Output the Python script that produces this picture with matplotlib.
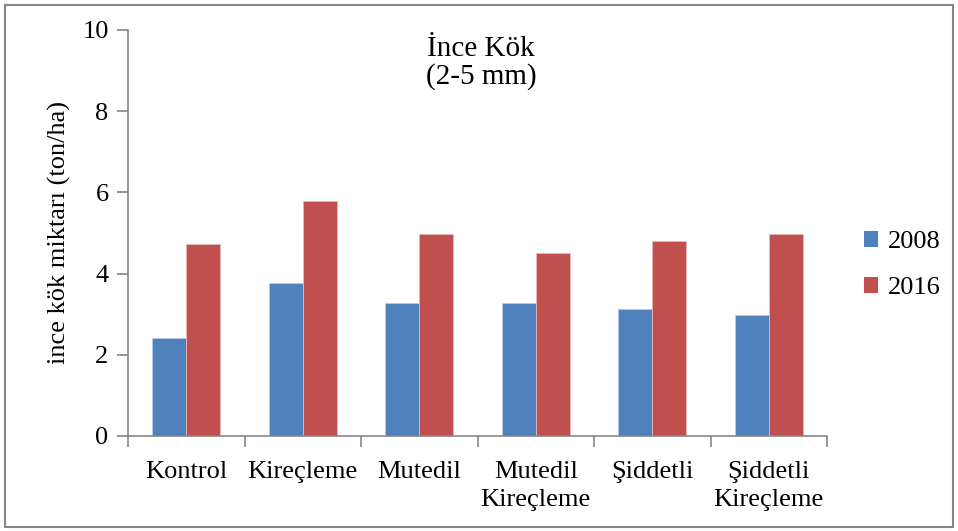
import numpy as np
import matplotlib
matplotlib.use("Agg")
import matplotlib.pyplot as plt
from matplotlib.patches import Rectangle, Patch

plt.rcParams['font.family'] = ['Liberation Serif', 'DejaVu Serif']

categories = ["Kontrol", "Kireçleme", "Mutedil", "Mutedil\nKireçleme", "Şiddetli", "Şiddetli\nKireçleme"]
values_2008 = [2.41, 3.77, 3.27, 3.28, 3.13, 2.97]
values_2016 = [4.73, 5.80, 4.98, 4.50, 4.81, 4.98]
series_labels = ["2008", "2016"]
yticks = [0, 2, 4, 6, 8, 10]

BLUE = "#4F81BD"
RED = "#C0504D"
GRAY = "#868686"
FS = 19

fig = plt.figure(figsize=(9.58, 5.31), dpi=100)
# outer chart border
fig.patches.append(Rectangle((5 / 958, 4 / 531), 948 / 958, 522 / 531,
                             transform=fig.transFigure, fill=False,
                             edgecolor=GRAY, linewidth=1.5))

ax = fig.add_axes([128 / 958, 1 - 436 / 531, 699 / 958, 406 / 531])

x = np.arange(len(categories))
w = 0.29
ax.bar(x - w / 2, values_2008, w, color=BLUE, edgecolor="#b9cde5", linewidth=0.6, label=series_labels[0])
ax.bar(x + w / 2, values_2016, w, color=RED, edgecolor="#e6b9b8", linewidth=0.6, label=series_labels[1])

ax.set_xlim(-0.5, len(categories) - 0.5)
ax.set_ylim(0, 10)
ax.set_yticks(yticks)
ax.set_yticklabels([str(v) for v in yticks], fontsize=FS)

# category labels centered, ticks on category boundaries
ax.set_xticks(np.arange(-0.5, len(categories), 1.0))
ax.set_xticklabels([])
ax.set_xticks(x, minor=True)
ax.set_xticklabels(categories, minor=True, fontsize=FS, linespacing=1.35)
ax.tick_params(axis="x", which="minor", length=0, pad=18)
ax.tick_params(axis="x", which="major", length=8, color=GRAY, width=1.2)
ax.tick_params(axis="y", length=8, color=GRAY, width=1.2, pad=6)

for side in ["top", "right"]:
    ax.spines[side].set_visible(False)
for side in ["left", "bottom"]:
    ax.spines[side].set_color(GRAY)
    ax.spines[side].set_linewidth(1.2)

ax.set_ylabel("ince kök miktarı (ton/ha)", fontsize=FS, labelpad=8)
ax.text(0.505, 0.985, "İnce Kök\n(2-5 mm)", transform=ax.transAxes, ha="center", va="top",
        fontsize=21, linespacing=1.05)

handles = [Patch(facecolor=BLUE), Patch(facecolor=RED)]
fig.legend(handles, series_labels, loc="center left", bbox_to_anchor=(840 / 958, 1 - 265 / 531),
           frameon=False, fontsize=FS, handlelength=0.55, handleheight=0.55,
           handletextpad=0.35, labelspacing=0.9)

plt.savefig("out.png", dpi=100)
